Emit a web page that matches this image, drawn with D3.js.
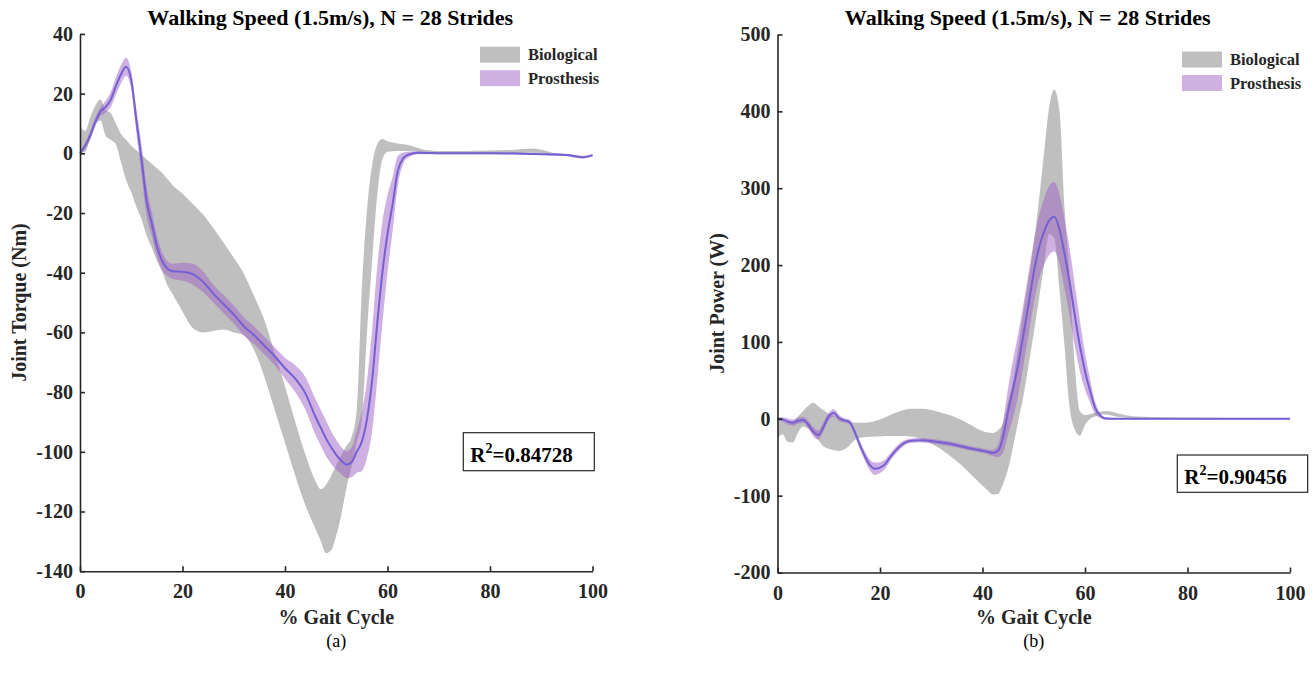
<!DOCTYPE html>
<html>
<head>
<meta charset="utf-8">
<script src="https://cdn.jsdelivr.net/npm/d3@7/dist/d3.min.js"></script>
<style>
body { margin: 0; background: #fff; }
svg { display: block; font-family: "Liberation Serif", "Times New Roman", serif; }
.axis path, .axis line { stroke: #262626; stroke-width: 1.6; }
.axis text { fill: #262626; font-size: 20px; font-weight: bold; font-family: "Liberation Serif", serif; }
</style>
</head>
<body>
<svg id="chart" width="1314" height="682"></svg>
<script>
var title = "Walking Speed (1.5m/s), N = 28 Strides";

// (a) joint torque, % gait cycle grid
var pctA = [0,1,2,3,4,5,6,7,8,9,10,11,12,13,14,15,16,17,18,20,22,24,26,28,30,32,34,36,38,40,42,44,46,47,48,49,50,51,52,53,54,55,56,57,58,59,60,61,62,63,64,66,68,70,75,80,85,88,90,92,95,98,100];
var bioLoA = [0,0.5,5,10,11,6,4.5,3,-3,-9,-13,-18,-22,-27.5,-31.5,-36,-39.5,-44,-47,-53,-58.5,-60,-59.5,-59,-60,-61,-66,-75,-86,-97,-108,-118,-126,-130,-134,-133,-128,-121,-112,-105,-97,-89,-60,-36,-14,-2,0.5,0.7,0.8,0.8,0.8,0.5,0.2,0,-0.1,-0.2,0,0.2,0,-0.5,-0.9,-1.5,-1];
var bioHiA = [9,7.5,12,16,18,14.5,13.5,10,6.5,4.5,2.5,1,-0.5,-2,-3.5,-5,-6.5,-8.5,-10.5,-13.5,-17,-20.5,-25,-30,-35,-40.5,-48,-56,-67,-78,-90,-101,-110,-112.5,-111,-108,-104.5,-101,-98,-95,-86,-45,-19,-4,3,4.8,4,3.6,3.3,3,2.8,1.8,1,0.8,0.8,0.9,1.2,1.6,1.2,0.3,-0.6,-1,-0.8];
var proMeanA = [0,2.5,6,10.5,14,15.5,18,22.5,26.5,29,24.5,11,-2,-16,-23.5,-31,-36,-38.5,-39.5,-39.7,-40.5,-43,-47,-50.5,-54,-58,-61,-64.5,-68,-72,-75.5,-80.5,-88.5,-92,-95.5,-98.5,-101,-103,-104.3,-103.5,-100,-96.5,-89,-76,-57,-40,-27,-17,-6,-1.8,-0.5,0.2,0.1,0,0,0,-0.1,-0.2,-0.3,-0.4,-0.6,-1.3,-0.6];
var proSdA = [0.5,1,1.5,1.5,1.5,2,2.5,3,3,3,3,4,5,5,4,3.5,3,2.5,2.5,3,3.5,3.5,3,3,3,3,3,3,3,3.5,4.5,5.5,6,6,6,5.5,5,4.5,4.5,5,7,10,13,17,19,17,13,9,5,2,1,0.5,0.4,0.3,0.3,0.3,0.3,0.3,0.3,0.3,0.4,0.5,0.4];

// (b) joint power
var pctB = [0,1,2,3,4,5,6,7,8,9,10,11,12,13,14,15,16,17,18,19,20,21,22,24,26,28,30,32,34,36,38,40,41,42,43,44,45,46,47,48,49,50,51,52,53,54,55,56,57,58,59,60,61,62,63,64,66,68,70,75,80,85,90,95,100];
var bioLoB = [-25,-20,-30,-31,-18,-10,-13,-20,-28,-36,-39,-41,-42,-40,-35,-28,-25,-24,-23.5,-23,-23,-22.5,-22.5,-22.5,-23,-26,-32,-40,-50,-61,-74,-87,-93,-98.5,-98,-85,-65,-35,-2,30,70,112,155,200,240,235,170,95,15,-14,-22,-8,0,3,5,5.5,3,1.5,0.5,0,-0.5,-1,-1,-0.5,0];
var bioHiB = [0,-3,-5,-3,3,10,17,21,16,11,7,4,1.5,-1.5,-3.5,-5,-5,-5,-4.5,-3,-1,2,5,10,13,13,11.5,8,4,-2,-9,-16,-18,-18.5,-15,-5,22,51,95,140,183,228,283,345,405,428,402,275,185,70,10,5,6,8,9,10,8,4.5,3,2,1.5,1.5,1,0.5,0];
var proMeanB = [0,-1,-3.5,-5,-2.5,-1.5,-7.4,-17,-21,-10,3,7.5,1,-2,-4,-16,-33,-48,-60,-65,-63.5,-59,-50,-35,-28.5,-28,-29,-31,-33,-36,-39,-41.5,-43,-44.5,-42,-24,10,40,72,110,150,190,222,243,258,263,247,215,178,135,95,62,36,14,4,0.5,0,0,0,0,0,0,0,0,0];
var proSdB = [2,3,4,4,4,4,5,6,6,6,5,5,4,3,3,4,5,6,7,8,7,6,5,4,3,3,3,3,3,3,3,3,3,4,8,20,30,38,40,40,40,40,41,43,45,45,45,45,44,40,33,24,15,8,3,1.5,1,0.5,0.5,0.5,0.5,0.5,0.5,0.5,0.5];

var xTicks = [0,20,40,60,80,100];
var yTicksA = [40,20,0,-20,-40,-60,-80,-100,-120,-140];
var yTicksB = [500,400,300,200,100,0,-100,-200];
var legendLabels = ["Biological", "Prosthesis"];

var gray = "#7f7f7f", purple = "#9f61c7", lineColor = "#7460d2";

var svg = d3.select("#chart");

function panel(o) {
  var x = d3.scaleLinear().domain([0, 100]).range(o.xr);
  var y = d3.scaleLinear().domain(o.yd).range(o.yr);
  var g = svg.append("g");
  var idx = d3.range(o.pct.length);

  var area = function(lo, hi) {
    return d3.area()
      .x(i => x(o.pct[i]))
      .y0(i => y(lo(i)))
      .y1(i => y(hi(i)))
      .curve(d3.curveMonotoneX)(idx);
  };

  g.append("path")
    .attr("d", area(i => o.bioLo[i], i => o.bioHi[i]))
    .attr("fill", gray).attr("fill-opacity", 0.5);

  g.append("path")
    .attr("d", area(i => o.mean[i] - o.sd[i], i => o.mean[i] + o.sd[i]))
    .attr("fill", purple).attr("fill-opacity", 0.5);

  g.append("path")
    .attr("d", d3.line().x(i => x(o.pct[i])).y(i => y(o.mean[i])).curve(d3.curveMonotoneX)(idx))
    .attr("fill", "none").attr("stroke", lineColor).attr("stroke-width", 2);

  // axes, ticks pointing inward, plain hyphen minus
  var fmt = d => String(d);
  g.append("g").attr("class", "axis")
    .attr("transform", `translate(0,${o.yr[0]})`)
    .call(d3.axisBottom(x).tickValues(xTicks).tickFormat(fmt).tickSizeInner(-5).tickSizeOuter(0).tickPadding(13));
  g.append("g").attr("class", "axis")
    .attr("transform", `translate(${o.xr[0]},0)`)
    .call(d3.axisLeft(y).tickValues(o.yTicks).tickFormat(fmt).tickSizeInner(-5).tickSizeOuter(0).tickPadding(7));

  var cx = (o.xr[0] + o.xr[1]) / 2;
  g.append("text").attr("x", cx - 6).attr("y", 25).attr("text-anchor", "middle")
    .attr("font-size", 22).attr("font-weight", "bold").attr("fill", "#000").text(title);
  g.append("text").attr("x", cx).attr("y", 624).attr("text-anchor", "middle")
    .attr("font-size", 20).attr("font-weight", "bold").attr("fill", "#262626").text("% Gait Cycle");
  g.append("text").attr("transform", `translate(${o.xr[0] - 54},${(o.yr[0] + o.yr[1]) / 2}) rotate(-90)`)
    .attr("text-anchor", "middle").attr("font-size", 20).attr("font-weight", "bold")
    .attr("fill", "#262626").text(o.yLabel);
  g.append("text").attr("x", cx).attr("y", 647).attr("text-anchor", "middle")
    .attr("font-size", 18).attr("fill", "#000").text(o.tag);

  // legend
  var lg = g.append("g").attr("transform", `translate(${o.legend[0]},${o.legend[1]})`);
  legendLabels.forEach(function(name, i) {
    lg.append("rect").attr("x", 0).attr("y", i * 23.5).attr("width", 40).attr("height", 16)
      .attr("fill", i ? purple : gray).attr("fill-opacity", 0.5);
    lg.append("text").attr("x", 48).attr("y", i * 23.5 + 13.5).attr("font-size", 16.5)
      .attr("font-weight", "bold").attr("fill", "#262626").text(name);
  });

  // R^2 box
  var b = o.rbox;
  g.append("rect").attr("x", b[0]).attr("y", b[1]).attr("width", b[2]).attr("height", b[3])
    .attr("fill", "#fff").attr("stroke", "#262626").attr("stroke-width", 1.2);
  var t = g.append("text").attr("x", b[0] + 7).attr("y", b[1] + 29)
    .attr("font-size", 21).attr("font-weight", "bold").attr("fill", "#000");
  t.append("tspan").text("R");
  t.append("tspan").attr("font-size", 14).attr("dy", -9).text("2");
  t.append("tspan").attr("dy", 9).text("=" + o.r2);
}

panel({
  pct: pctA, bioLo: bioLoA, bioHi: bioHiA, mean: proMeanA, sd: proSdA,
  xr: [80, 592.5], yd: [-140, 40], yr: [571.2, 33.9], yTicks: yTicksA,
  yLabel: "Joint Torque (Nm)", tag: "(a)", legend: [480, 46.7],
  rbox: [463.3, 432.7, 131, 38], r2: "0.84728"
});

panel({
  pct: pctB, bioLo: bioLoB, bioHi: bioHiB, mean: proMeanB, sd: proSdB,
  xr: [777.5, 1290], yd: [-200, 500], yr: [572.5, 34.5], yTicks: yTicksB,
  yLabel: "Joint Power (W)", tag: "(b)", legend: [1182, 51.5],
  rbox: [1177.3, 455, 130.4, 37.3], r2: "0.90456"
});
</script>
</body>
</html>
